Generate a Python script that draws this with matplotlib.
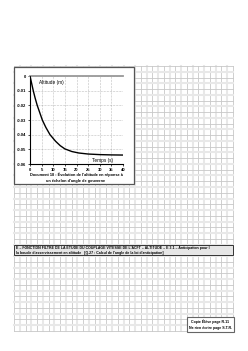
import numpy as np
import matplotlib
matplotlib.use('Agg')
import matplotlib.pyplot as plt
from matplotlib.patches import Rectangle

# values
temps = [0, 0.7, 1.4, 2.2, 3.1, 4.2, 5.3, 6.8, 8.6, 11, 13, 15, 18, 21, 25, 30, 35, 40]
altitude = [0, -0.005, -0.010, -0.015, -0.020, -0.025, -0.030, -0.035, -0.040,
            -0.0445, -0.0475, -0.0497, -0.0515, -0.0525, -0.0532, -0.0536, -0.0538, -0.0539]

x_ticks = [0, 5, 10, 15, 20, 25, 30, 35, 40]
y_ticks = [0, -0.01, -0.02, -0.03, -0.04, -0.05, -0.06]
y_labels = ['0', '-0.01', '-0.02', '-0.03', '-0.04', '-0.05', '-0.06']

caption = "Document 18 : Évolution de l'altitude en réponse à\nun échelon d'angle de gouverne"
heading = ("E – FONCTION FILTRE DE LA ÉTUDE DU COUPLAGE VITESSE DE L'ACFT – ALTITUDE – E.3.1 – Anticipation pour l\n"
           "la boucle d'asservissement en altitude   [Q.27 : Calcul de l'angle de la loi d'anticipation]")
footer = "Copie Élève page R.11\nNe rien écrire page S.T.R."

narrow = ['Liberation Sans Narrow', 'Liberation Sans', 'DejaVu Sans']

W, H = 248, 351
fig = plt.figure(figsize=(W / 100, H / 100), dpi=100)
fig.patch.set_facecolor('white')

# page layer in pixel coords
bg = fig.add_axes([0, 0, 1, 1])
bg.set_xlim(0, W)
bg.set_ylim(H, 0)
bg.axis('off')

# squared paper
gx0, gx1, gy0, gy1 = 14, 233, 66, 331
xs = np.linspace(gx0, gx1, 39)
ys = np.linspace(gy0, gy1, 47)
for i, x in enumerate(xs):
    if i % 2:
        bg.plot([x, x], [gy0, gy1], color='#e8e8e8', lw=1.5, zorder=1)
    else:
        bg.plot([x, x], [gy0, gy1], color='#c8c8c8', lw=0.6, zorder=1)
for i, y in enumerate(ys):
    if i % 2:
        bg.plot([gx0, gx1], [y, y], color='#e8e8e8', lw=1.5, zorder=1)
    else:
        bg.plot([gx0, gx1], [y, y], color='#c8c8c8', lw=0.6, zorder=1)

# chart box
bg.add_patch(Rectangle((14, 67), 120, 117, facecolor='white', edgecolor='#555555', lw=0.9, zorder=2))
bg.text(76, 177.5, caption, ha='center', va='center', fontsize=2.8, fontweight='bold',
        family=narrow, linespacing=1.6, zorder=3)

# heading box
bg.add_patch(Rectangle((14, 245), 219, 10, facecolor='#e6e6e6', edgecolor='#333333', lw=0.7, zorder=2))
bg.text(15.5, 250, heading, ha='left', va='center', fontsize=2.55, fontweight='bold',
        family=narrow, linespacing=1.4, zorder=3)

# footer box
bg.add_patch(Rectangle((187, 317), 47, 15, facecolor='white', edgecolor='#666666', lw=0.8, zorder=2))
bg.text(210.5, 324.5, footer, ha='center', va='center', fontsize=2.6, fontweight='bold',
        family=narrow, linespacing=1.5, zorder=3)

# plot
ax = fig.add_axes([30 / W, 1 - 164 / H, 93 / W, 88 / H])
ax.set_facecolor('white')
ax.plot(temps, altitude, color='black', lw=1.0, zorder=3)
ax.set_xlim(0, 40)
ax.set_ylim(-0.06, 0)
ax.set_xticks(x_ticks)
ax.set_yticks(y_ticks)
ax.set_yticklabels(y_labels)
ax.tick_params(labelsize=3, length=1.5, width=0.5, pad=1.5)
for lab in ax.get_xticklabels() + ax.get_yticklabels():
    lab.set_family(narrow)
    lab.set_fontweight('bold')
ax.grid(True, color='#888888', lw=0.4, ls=':')
for s in ['left', 'bottom']:
    ax.spines[s].set_color('black')
    ax.spines[s].set_linewidth(0.8)
ax.spines['top'].set_color('#999999')
ax.spines['top'].set_linewidth(1.3)
ax.spines['right'].set_visible(False)
ax.text(4, -0.0045, 'Altitude (m)', fontsize=3.4, ha='left', va='center', family=narrow)
ax.text(31, -0.0575, 'Temps (s)', fontsize=3.4, ha='center', va='center', family=narrow)

fig.savefig('out.png', dpi=100)
